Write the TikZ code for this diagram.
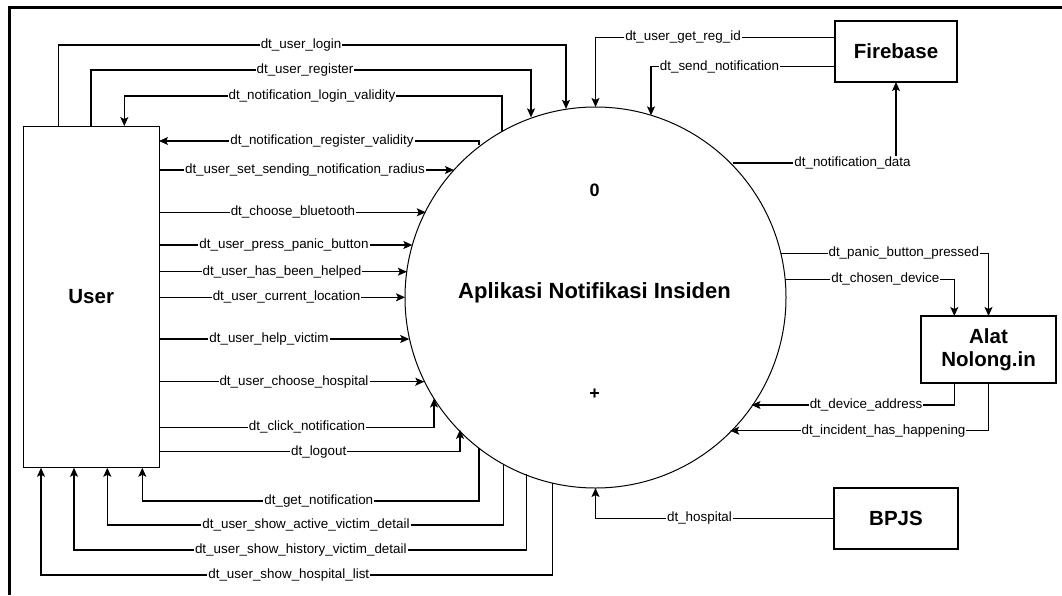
\documentclass[tikz,border=0pt]{standalone}
\usepackage{fontspec}
\setmainfont{Liberation Sans}
\usetikzlibrary{arrows.meta}
\begin{document}
\begin{tikzpicture}[x=1pt,y=-1pt,
  flow/.style={draw=black, line width=1.1pt, -{Stealth[length=9pt,width=8pt,inset=2pt]}},
  lbl/.style={fill=white, inner sep=1pt, font=\fontsize{13.4}{15}\selectfont},
  entity/.style={draw=black, line width=1.1pt, rectangle, inner sep=0pt, outer sep=0pt,
    font=\bfseries\fontsize{20.5}{23.5}\selectfont, align=center},
  bigtext/.style={font=\bfseries\fontsize{22}{26}\selectfont},
  marktext/.style={font=\bfseries\fontsize{18}{20}\selectfont}
]
\useasboundingbox (0,0) rectangle (1062,595);

% page frame (top and left)
\draw[line width=3pt] (9.5,595) -- (9.5,7) -- (1062,7);

% external entities
\node[entity, minimum width=135.7pt, minimum height=341.7pt] (user) at (91.2,296.9) {User};
\node[entity, minimum width=122pt, minimum height=61pt] (fire) at (896,51.5) {Firebase};
\node[entity, minimum width=135pt, minimum height=67pt] (alat) at (988.5,349.5) {Alat\\Nolong.in};
\node[entity, minimum width=124pt, minimum height=61pt] (bpjs) at (896,518.5) {BPJS};

% process
\node[circle, draw=black, line width=1pt, minimum size=381pt, inner sep=0pt, outer sep=0pt] (proc) at (595.5,297.5) {};
\node[marktext] (pnum) at (594.5,190.5) {0};
\node[bigtext] (ptitle) at (594.5,293) {Aplikasi Notifikasi Insiden};
\node[marktext] (pplus) at (594.5,394.7) {+};

% User -> process (over the top)
\draw[flow] (user.north -| 58.3,0) |- (566,45) -- (566,0 |- proc.98.9)
  node[lbl] at (301,45) {dt\_user\_login};
\draw[flow] (user.north -| 91,0) |- (531,70) -- (531,0 |- proc.109.8)
  node[lbl] at (305,70) {dt\_user\_register};
\draw[flow] (502,0 |- proc.119.4) |- (124.3,96) -- (user.north -| 124.3,0)
  node[lbl] at (312,96) {dt\_notification\_login\_validity};
\draw[flow] (479,0 |- proc.127.7) |- (user.east |- 0,141)
  node[lbl] at (322,141) {dt\_notification\_register\_validity};

% User -> process (straight)
\draw[flow] (user.east |- 0,170) -- (0,170 -| proc.138)
  node[lbl] at (305,170) {dt\_user\_set\_sending\_notification\_radius};
\draw[flow] (user.east |- 0,212.3) -- (0,212.3 -| proc.153.4)
  node[lbl] at (293,212.3) {dt\_choose\_bluetooth};
\draw[flow] (user.east |- 0,245) -- (0,245 -| proc.164)
  node[lbl] at (284,245) {dt\_user\_press\_panic\_button};
\draw[flow] (user.east |- 0,271.7) -- (0,271.7 -| proc.172.2)
  node[lbl] at (282,271.7) {dt\_user\_has\_been\_helped};
\draw[flow] (user.east |- 0,297.3) -- (0,297.3 -| proc.180)
  node[lbl] at (286.5,297.3) {dt\_user\_current\_location};
\draw[flow] (user.east |- 0,339) -- (0,339 -| proc.192.6)
  node[lbl] at (269,339) {dt\_user\_help\_victim};
\draw[flow] (user.east |- 0,381.7) -- (0,381.7 -| proc.206.2)
  node[lbl] at (294,381.7) {dt\_user\_choose\_hospital};
\draw[flow] (user.east |- 0,427.3) -| (434,0 |- proc.212)
  node[lbl] at (307,427.3) {dt\_click\_notification};
\draw[flow] (user.east |- 0,451.7) -| (460,0 |- proc.224.7)
  node[lbl] at (318.7,451.7) {dt\_logout};

% process -> User (underneath)
\draw[flow] (479,0 |- proc.232.3) |- (142.3,501) -- (user.south -| 142.3,0)
  node[lbl] at (318.8,501) {dt\_get\_notification};
\draw[flow] (503.3,0 |- proc.241.05) |- (107.3,525) -- (user.south -| 107.3,0)
  node[lbl] at (306,525) {dt\_user\_show\_active\_victim\_detail};
\draw[flow] (526.7,0 |- proc.248.8) |- (74,550) -- (user.south -| 74,0)
  node[lbl] at (300.8,550) {dt\_user\_show\_history\_victim\_detail};
\draw[flow] (552.7,0 |- proc.257) |- (41,575) -- (user.south -| 41,0)
  node[lbl] at (288.8,575) {dt\_user\_show\_hospital\_list};

% Firebase
\draw[flow] (fire.west |- 0,37.3) -| (proc.north)
  node[lbl] at (683,37.3) {dt\_user\_get\_reg\_id};
\draw[flow] (fire.west |- 0,66.7) -| (651,0 |- proc.73.06)
  node[lbl] at (719.5,66.7) {dt\_send\_notification};
\draw[flow] (0,163 -| proc.44.92) -| (fire.south)
  node[lbl] at (852.5,163) {dt\_notification\_data};

% Alat Nolong.in
\draw[flow] (0,253.3 -| proc.13.42) -| (alat.north)
  node[lbl] at (903.8,253.3) {dt\_panic\_button\_pressed};
\draw[flow] (0,279.3 -| proc.5.48) -| (alat.north -| 954.3,0)
  node[lbl] at (885.3,279.3) {dt\_chosen\_device};
\draw[flow] (alat.south -| 954.3,0) |- (0,405 -| proc.325.64)
  node[lbl] at (866,405) {dt\_device\_address};
\draw[flow] (alat.south) |- (0,430.7 -| proc.315.64)
  node[lbl] at (883.5,430.7) {dt\_incident\_has\_happening};

% BPJS
\draw[flow] (bpjs.west) -| (proc.south)
  node[lbl] at (699.5,518.5) {dt\_hospital};
\end{tikzpicture}
\end{document}
